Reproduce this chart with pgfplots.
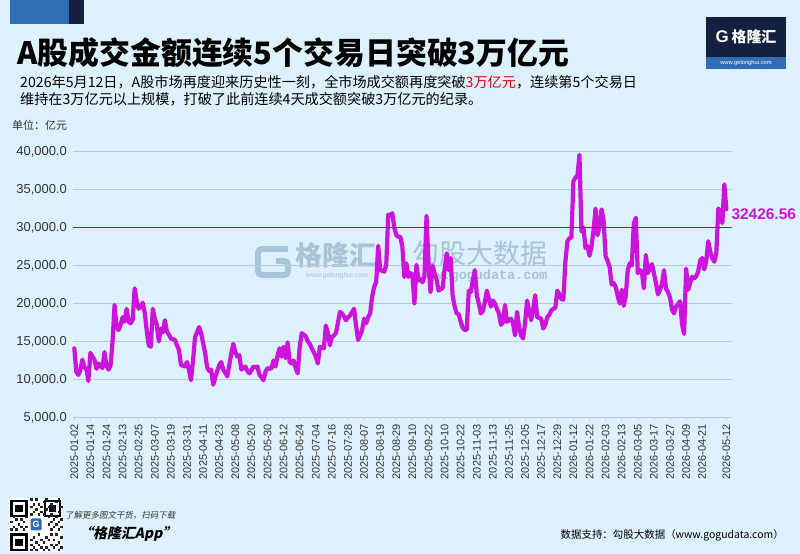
\documentclass[border=0pt]{standalone}
\usepackage{pgfplots}
\pgfplotsset{compat=1.18}
\usepackage{fontspec}
\setmainfont{Noto Sans CJK SC}
\newfontfamily\lab{Liberation Sans}
\newfontfamily\monof{Liberation Mono}
\newfontfamily\cjkit[FakeSlant=0.2]{Noto Sans CJK SC}

\definecolor{bg}{HTML}{DCF1FB}
\definecolor{gridc}{HTML}{BACBD7}
\definecolor{linec}{HTML}{CC14DC}
\definecolor{redl}{HTML}{CC0018}
\definecolor{navy}{HTML}{13203F}
\definecolor{topblue}{HTML}{2F6DB5}
\definecolor{wm}{HTML}{A9C3D9}
\definecolor{txt}{HTML}{333333}
\definecolor{hl}{HTML}{E60012}

\begin{document}
\begin{tikzpicture}
\useasboundingbox (0,0) rectangle (800bp,554bp);
\fill[bg] (0,0) rectangle (800bp,554bp);

\begin{scope}[x=1bp,y=1bp]
  % header bar
  \fill[topblue] (10,530) rectangle (69,554);
  \fill[navy] (69,530) rectangle (84,554);
  % brand box
  \fill[navy] (706,497) rectangle (786,537);
  \fill[topblue] (706,485) rectangle (786,497);
  \node[white,inner sep=0] at (746,517) {\lab\bfseries\fontsize{17}{17}\selectfont G\,\normalfont\bfseries\fontsize{15}{15}\selectfont 格隆汇};
  \node[white,inner sep=0] at (746,491) {\lab\fontsize{5.8}{6}\selectfont www.gelonghui.com};

  % title and intro
  \node[anchor=west,inner sep=0] at (17,501) {\bfseries\fontsize{31}{31}\selectfont A股成交金额连续5个交易日突破3万亿元};
  \node[anchor=west,inner sep=0] at (20,472) {\fontsize{14.2}{14.2}\selectfont 2026年5月12日，A股市场再度迎来历史性一刻，全市场成交额再度突破\textcolor{hl}{3万亿元}，连续第5个交易日};
  \node[anchor=west,inner sep=0] at (20,455) {\fontsize{14.2}{14.2}\selectfont 维持在3万亿元以上规模，打破了此前连续4天成交额突破3万亿元的纪录。};
  \node[anchor=west,inner sep=0,text=txt] at (12,429) {\fontsize{11}{11}\selectfont 单位：亿元};

  % watermarks
  \draw[wm,line width=6,rounded corners=4] (288,305) -- (258,305) -- (258,279) -- (288,279) -- (288,293) -- (276,293);
  \node[text=wm,inner sep=0] at (336,299) {\bfseries\fontsize{27}{27}\selectfont 格隆汇};
  \node[text=wm,inner sep=0] at (337,278) {\lab\fontsize{7}{7}\selectfont www.gelonghui.com};
  \node[text=wm,inner sep=0] at (480,301) {\fontsize{27}{27}\selectfont 勾股大数据};
  \node[text=wm,inner sep=0] at (483,278) {\monof\bfseries\fontsize{13.5}{13.5}\selectfont www.gogudata.com};

  % footer: scan code
  \fill[white] (9,2) rectangle (62,56);
  \begin{scope}[shift={(10,3)}]
    \foreach \px/\py in {0/0, 0/33.5, 33.5/33.5}{
      \fill[black] (\px,\py) rectangle ++(17.5,17.5);
      \fill[white] (\px+2.5,\py+2.5) rectangle ++(12.5,12.5);
      \fill[black] (\px+5,\py+5) rectangle ++(7.5,7.5);
    }
    \foreach \i/\j in {8/0,10/0,13/0,15/0,19/0,9/1,12/1,14/1,17/1,20/1,8/2,11/2,16/2,18/2,
                       10/3,13/3,19/3,8/4,12/4,15/4,17/4,9/5,14/5,20/5,11/6,16/6,18/6,
                       0/8,2/8,5/8,16/8,19/8,1/9,4/9,6/9,17/9,20/9,3/10,15/10,18/10,
                       0/11,5/11,16/11,19/11,2/12,4/12,17/12,20/12,1/13,6/13,15/13,18/13,
                       8/14,11/14,13/14,16/14,9/15,12/15,19/15,10/16,14/16,17/16,
                       8/17,12/17,15/17,20/17,9/18,11/18,16/18,13/19,18/19,8/20,10/20,14/20,19/20}{
      \fill[black!85] (\i*2.5,\j*2.5) rectangle ++(2.5,2.5);
    }
    \fill[white] (19,19) rectangle (33,34);
    \fill[topblue,rounded corners=1.5] (20.5,20.5) rectangle (31.5,32.5);
    \node[white,inner sep=0] at (26,26.5) {\lab\bfseries\fontsize{9}{9}\selectfont G};
  \end{scope}
  \node[anchor=west,inner sep=0,text=txt] at (65,39) {\cjkit\fontsize{8.5}{8.5}\selectfont 了解更多图文干货，扫码下载};
  \node[anchor=west,inner sep=0] at (79,20) {\cjkit\bfseries\fontsize{14}{14}\selectfont “格隆汇App”};
  \node[anchor=east,inner sep=0] at (784,19) {\fontsize{10.5}{10.5}\selectfont 数据支持：勾股大数据（www.gogudata.com）};
\end{scope}

\begin{axis}[
  at={(73.3bp,136.6bp)}, anchor=south west,
  scale only axis, width=659.1bp, height=265.7bp,
  xmin=-0.5, xmax=327, ymin=5000, ymax=40000,
  clip=false,
  axis line style={draw=none},
  ytick={5000,10000,15000,20000,25000,30000,35000,40000},
  scaled y ticks=false,
  ymajorgrids, grid style={gridc, line width=0.9pt},
  ytick style={draw=none},
  xtick={0,8,...,312,324},
  xticklabels={2025-01-02,2025-01-14,2025-01-24,2025-02-13,2025-02-25,2025-03-07,2025-03-19,2025-03-31,2025-04-11,2025-04-23,2025-05-08,2025-05-20,2025-05-30,2025-06-12,2025-06-24,2025-07-04,2025-07-16,2025-07-28,2025-08-07,2025-08-19,2025-08-29,2025-09-10,2025-09-22,2025-10-10,2025-10-22,2025-11-03,2025-11-13,2025-11-25,2025-12-05,2025-12-17,2025-12-29,2026-01-12,2026-01-22,2026-02-03,2026-02-13,2026-03-05,2026-03-17,2026-03-27,2026-04-09,2026-04-21,2026-05-12},
  xtick style={gridc, line width=0.6pt},
  tick align=outside, major tick length=3bp,
  xtick pos=left, ytick pos=left,
  xticklabel style={rotate=90, anchor=east, font=\lab\fontsize{11}{11}\selectfont, text=txt},
  yticklabel style={font=\lab\fontsize{13}{13}\selectfont, text=txt,
    /pgf/number format/fixed, /pgf/number format/fixed zerofill,
    /pgf/number format/precision=1, /pgf/number format/1000 sep={,},
    /pgf/number format/assume math mode=true},
]
\addplot[linec, line width=4.2bp, line join=round, line cap=round] coordinates {
(0,14100) (1,11000) (2,10600) (3,11200) (4,12600) (5,11600) (6,11400) (7,9800) (8,13500) (9,13000)
(10,12600) (11,11400) (12,12100) (13,11800) (14,11500) (15,13600) (16,11800) (17,11300) (18,11800) (19,15000)
(20,19800) (21,16900) (22,16500) (23,17200) (24,18200) (25,17600) (26,19300) (27,17600) (28,17400) (29,17900)
(30,22000) (31,20300) (32,19300) (33,19600) (34,20100) (35,18800) (36,16400) (37,14500) (38,14300) (39,19300)
(40,18000) (41,17200) (42,15000) (43,16700) (44,16200) (45,17800) (46,16300) (47,15900) (48,15400) (49,15300)
(50,15200) (51,14500) (52,13900) (53,11900) (54,11800) (55,11700) (56,12300) (57,11200) (58,9900) (59,12500)
(60,15600) (61,16200) (62,16900) (63,16100) (64,14800) (65,13500) (66,11600) (67,11100) (68,11300) (69,9300)
(70,10200) (71,11100) (72,11900) (73,12300) (74,11300) (75,10900) (76,10400) (77,11900) (78,13400) (79,14700)
(80,13600) (81,13000) (82,13200) (83,11300) (84,11500) (85,11700) (86,11100) (87,10800) (88,11200) (89,11700)
(90,11600) (91,11700) (92,10600) (93,10300) (94,9900) (95,11000) (96,11500) (97,11400) (98,11500) (99,12500)
(100,11700) (101,13200) (102,14100) (103,13000) (104,14300) (105,12800) (106,14900) (107,12300) (108,12100) (109,12500)
(110,11500) (111,10800) (112,14300) (113,16100) (114,15900) (115,15700) (116,15000) (117,14700) (118,14100) (119,13600)
(120,13000) (121,12100) (122,14300) (123,14200) (124,14100) (125,17100) (126,16100) (127,14500) (128,15600) (129,15800)
(130,16100) (131,17500) (132,18900) (133,18700) (134,18300) (135,17800) (136,18200) (137,18400) (138,18900) (139,19300)
(140,17100) (141,15200) (142,15800) (143,16500) (144,18000) (145,17400) (146,18200) (147,18700) (148,20900) (149,22200)
(150,22800) (151,27600) (152,24400) (153,24300) (154,24200) (155,25100) (156,31700) (157,31600) (158,31900) (159,30000)
(160,29000) (161,28800) (162,28800) (163,27500) (164,23500) (165,25300) (166,23500) (167,24000) (168,23800) (169,20000)
(170,25100) (171,23000) (172,23200) (173,22800) (174,23600) (175,31500) (176,25300) (177,21500) (178,25000) (179,24000)
(180,23200) (181,21700) (182,21900) (183,22000) (184,24500) (185,26600) (186,24400) (187,26000) (188,21000) (189,19600)
(190,18700) (191,18600) (192,17600) (193,16800) (194,16500) (195,16600) (196,21700) (197,21500) (198,23000) (199,24400)
(200,21100) (201,20000) (202,18700) (203,19000) (204,20200) (205,21700) (206,20600) (207,19600) (208,20400) (209,20000)
(210,19300) (211,18700) (212,17200) (213,17500) (214,19800) (215,17600) (216,17800) (217,18000) (218,17400) (219,15800)
(220,18900) (221,16900) (222,15800) (223,15400) (224,17500) (225,20400) (226,19000) (227,17800) (228,19200) (229,21100)
(230,18200) (231,18100) (232,18000) (233,16700) (234,17200) (235,18200) (236,18500) (237,19100) (238,19300) (239,19400)
(240,21700) (241,21200) (242,20600) (243,20500) (244,25500) (245,28200) (246,28600) (247,28700) (248,36100) (249,36600)
(250,36800) (251,39600) (252,29500) (253,30000) (254,27300) (255,27600) (256,26300) (257,27500) (258,29700) (259,32500)
(260,29000) (261,30300) (262,32400) (263,31000) (264,26200) (265,25600) (266,24800) (267,22500) (268,22700) (269,22200)
(270,21000) (271,20000) (272,21800) (273,19700) (274,21000) (275,24400) (276,25300) (277,25000) (278,30500) (279,31300)
(280,24000) (281,24400) (282,24200) (283,22000) (284,26400) (285,24000) (286,24600) (287,25200) (288,24000) (289,22700)
(290,21200) (291,21800) (292,22600) (293,24400) (294,22000) (295,21500) (296,20800) (297,19200) (298,18700) (299,19600)
(300,19900) (301,20300) (302,17200) (303,16000) (304,24600) (305,21800) (306,22700) (307,23500) (308,23300) (309,23600)
(310,24200) (311,25700) (312,26000) (313,24500) (314,25600) (315,28200) (316,26800) (317,26000) (318,25500) (319,26600)
(320,32500) (321,32200) (322,30600) (323,35700) (324,32426.56)
};
% 30,000 reference level
\addplot[redl, line width=1.1pt] coordinates {(-0.5,30000) (327,30000)};
\node[anchor=west, text=linec, inner sep=0, xshift=5bp, yshift=-5bp]
  at (axis cs:324,32426.56) {\lab\bfseries\fontsize{15.5}{15.5}\selectfont 32426.56};
\end{axis}
\end{tikzpicture}
\end{document}
